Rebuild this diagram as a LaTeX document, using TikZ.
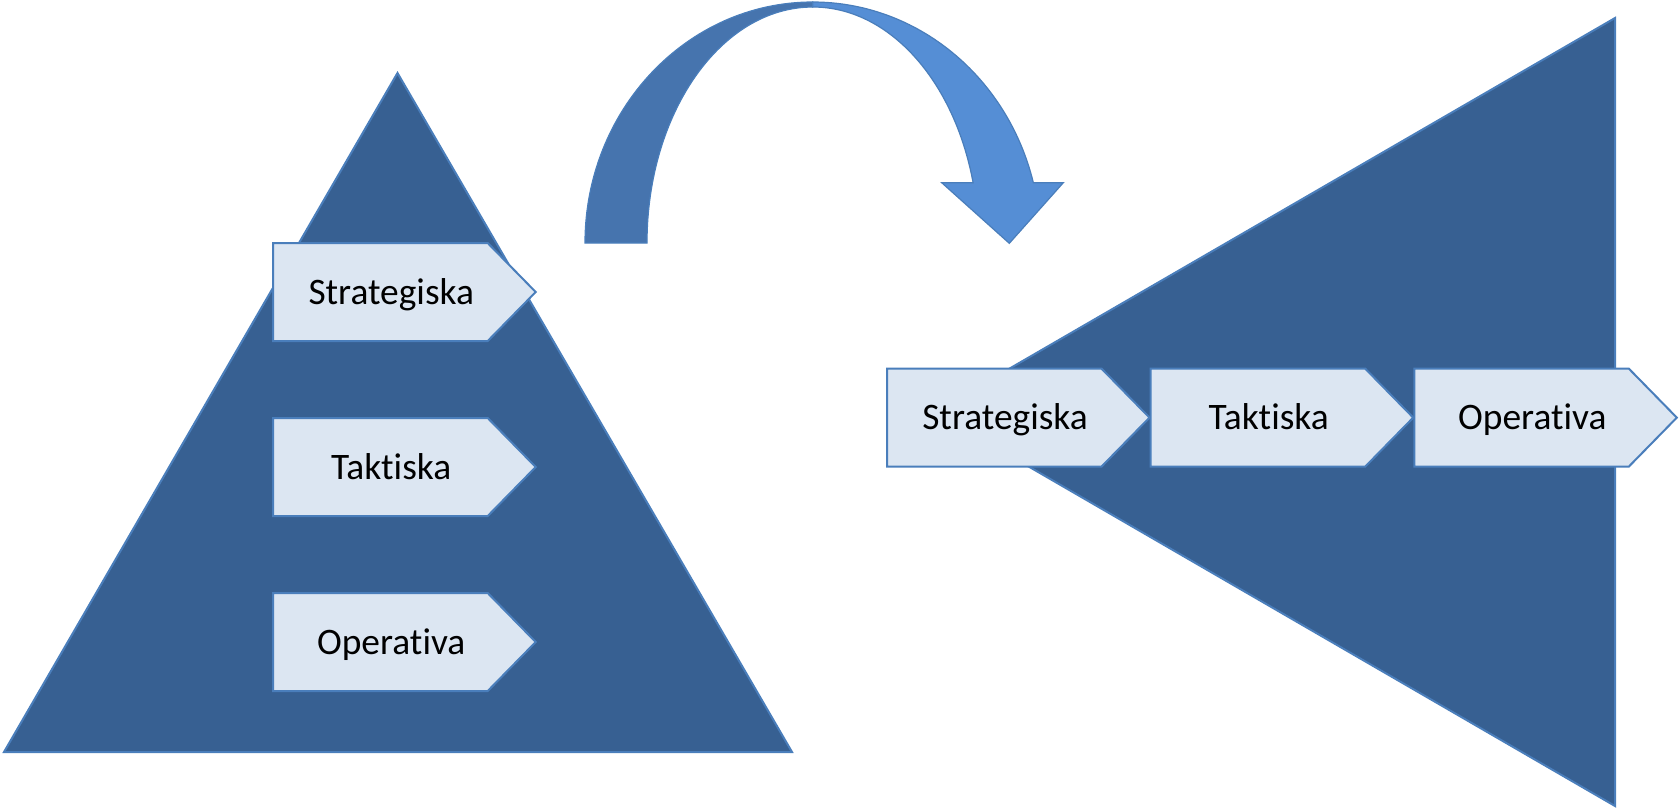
\documentclass[tikz,border=0pt]{standalone}
\usepackage{fontspec}
\setmainfont{Carlito}[Ligatures={NoCommon}]
\definecolor{trifill}{HTML}{376092}
\definecolor{edgecol}{HTML}{4A7EBB}
\definecolor{pfill}{HTML}{DCE6F2}
\definecolor{adark}{HTML}{4674AE}
\definecolor{alight}{HTML}{558ED5}
\tikzset{
  tribox/.style={fill=trifill, draw=edgecol, line width=1pt, line join=miter},
  pentbox/.style={fill=pfill, draw=edgecol, line width=1pt},
  lbl/.style={font=\fontsize{18.7}{21}\selectfont, anchor=base, inner sep=0pt},
  arrowpart/.style={draw=edgecol, line width=0.6pt},
}
\newcommand{\mypent}[4]{%
  \draw[pentbox] (#1,#2) -- ++(214.5,0) -- ++(48,49) -- ++(-48,49) -- ++(-214.5,0) -- cycle;
  \node[lbl] (#3) at (#1+118,#2+61) {#4};}
\begin{document}
\begin{tikzpicture}[x=0.5pt,y=-0.5pt]
\useasboundingbox (0,0) rectangle (1680,811);
% left triangle
\draw[tribox] (397.5,73) -- (792,752) -- (4,752) -- cycle;
\mypent{273.2}{243}{ls}{Strategiska}
\mypent{273.2}{418}{lt}{Taktiska}
\mypent{273.2}{593}{lo}{Operativa}
% right triangle
\draw[tribox] (1615,18) -- (1615,806) -- (934.5,412) -- cycle;
\mypent{887}{368.6}{rs}{Strategiska}
\mypent{1150.7}{368.6}{rt}{Taktiska}
\mypent{1414.3}{368.6}{ro}{Operativa}
% curved arrow
\draw[arrowpart, fill=adark] (585,243) arc[start angle=180, end angle=270, x radius=227.8, y radius=241]
  -- (812.8,7) arc[start angle=270, end angle=180, x radius=165.8, y radius=236] -- cycle;
\draw[arrowpart, fill=alight, line join=miter] (812.8,2) arc[start angle=270, end angle=345.5, x radius=227.8, y radius=241]
  -- (1063.3,182.7) -- (1009.3,243.3) -- (941.7,182.7) -- (973.1,182.7)
  arc[start angle=345.2, end angle=270, x radius=165.8, y radius=236] -- cycle;
\end{tikzpicture}
\end{document}
